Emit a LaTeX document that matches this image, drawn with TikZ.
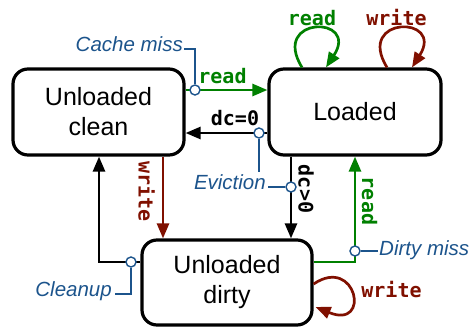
\documentclass[tikz,border=0pt]{standalone}
\usepackage{fontspec}
\setmainfont{Liberation Sans}
\newfontfamily\codefont{DejaVu Sans Mono}
\usetikzlibrary{arrows.meta,calc}
\definecolor{rdgreen}{RGB}{0,128,0}
\definecolor{wrred}{RGB}{128,16,0}
\definecolor{noteblue}{RGB}{28,84,140}
\tikzset{
  state/.style={draw, line width=3.2pt, rounded corners=15pt, align=center,
    font=\fontsize{25}{30}\selectfont, inner sep=0pt},
  arc/.style={line width=2.7pt, -{Triangle[length=15pt,width=12pt]}},
  op/.style={font=\codefont\bfseries\fontsize{20}{24}\selectfont, inner sep=0pt},
  note/.style={font=\itshape\fontsize{20.5}{24}\selectfont, text=noteblue, inner sep=0pt},
  leader/.style={draw=noteblue, line width=1.4pt},
  tap/.style={circle, draw=noteblue, fill=white, line width=1.4pt,
    minimum size=10pt, inner sep=0pt},
}
\begin{document}
\begin{tikzpicture}[x=1pt,y=-1pt]
\useasboundingbox (0,0) rectangle (472,327);

% states
\node[state, minimum width=171pt, minimum height=86pt] (clean) at (98.5,112) {Unloaded\\clean};
\node[state, minimum width=172pt, minimum height=86pt] (loaded) at (355,112) {Loaded};
\node[state, minimum width=170pt, minimum height=85pt] (dirty) at (227,282.5) {Unloaded\\dirty};

% rails for the straight transitions
\coordinate (readrow) at (0,90);
\coordinate (evrow) at (0,133);
\coordinate (sidecol) at (0,262);
\coordinate (wcol) at (163,0);
\coordinate (dccol) at (291,0);
\coordinate (dmcol) at (355,0);
\coordinate (cucol) at (99,0);

% transitions
\draw[arc, rdgreen] (clean.east |- readrow) -- (loaded.west |- readrow);
\draw[arc] (loaded.west |- evrow) -- (clean.east |- evrow);
\draw[arc, wrred] (clean.south -| wcol) -- (dirty.north -| wcol);
\draw[arc] (loaded.south -| dccol) -- (dirty.north -| dccol);
\draw[arc, rdgreen] (dirty.east |- sidecol) -| (loaded.south -| dmcol);
\draw[arc] (dirty.west |- sidecol) -| (clean.south -| cucol);

% self loops
\draw[arc, rdgreen] ($(loaded.north)+(-53,0)$) .. controls +(-32,-52) and +(34,-52) .. ($(loaded.north)+(-29,0)$);
\draw[arc, wrred] ($(loaded.north)+(32,0)$) .. controls +(-32,-52) and +(33,-52) .. ($(loaded.north)+(57,0)$);
\draw[arc, wrred] ($(dirty.east)+(0,1.5)$) .. controls +(43,-29) and +(56,23) .. ($(dirty.east)+(2,24.5)$);

% operation labels
\node[op, text=rdgreen, anchor=base] (lread1) at (222.5,83) {read};
\node[op, anchor=base] (ldc0) at (235,125) {dc=0};
\node[op, text=rdgreen, anchor=base] (lread2) at (312,25) {read};
\node[op, text=wrred, anchor=base] (lwrite1) at (396.5,25) {write};
\node[op, text=wrred, anchor=base] (lwrite2) at (391.5,297) {write};
\node[op, text=wrred, rotate=-90] (lwrite3) at (146.5,191.5) {write};
\node[op, rotate=-90] (ldcpos) at (306,189) {dc>0};
\node[op, text=rdgreen, rotate=-90] (lread3) at (369.5,201) {read};

% event markers
\node[tap] (tcm) at (195,90) {};
\node[tap] (tev1) at (259,133) {};
\node[tap] (tev2) at (291,187) {};
\node[tap] (tcu) at (131,262) {};
\node[tap] (tdm) at (355,251) {};

% event notes
\node[note, anchor=base east] (ncm) at (183,51) {Cache miss};
\node[note, anchor=base east] (nev) at (266,189) {Eviction};
\node[note, anchor=base east] (ncu) at (112,296) {Cleanup};
\node[note, anchor=base west] (ndm) at (379,255) {Dirty miss};

\draw[leader] ($(ncm.base east)+(1,-2)$) -| (tcm.north);
\draw[leader] (tev1.south) -- ($(tev1 |- nev.base)+(0,-17)$);
\draw[leader] ($(nev.base east)+(2,-2)$) -- (tev2.west);
\draw[leader] (tcu.south) |- ($(ncu.base east)+(3,-2)$);
\draw[leader] (tdm.east) -- ($(ndm.base west)+(-1,-4)$);
\end{tikzpicture}
\end{document}
